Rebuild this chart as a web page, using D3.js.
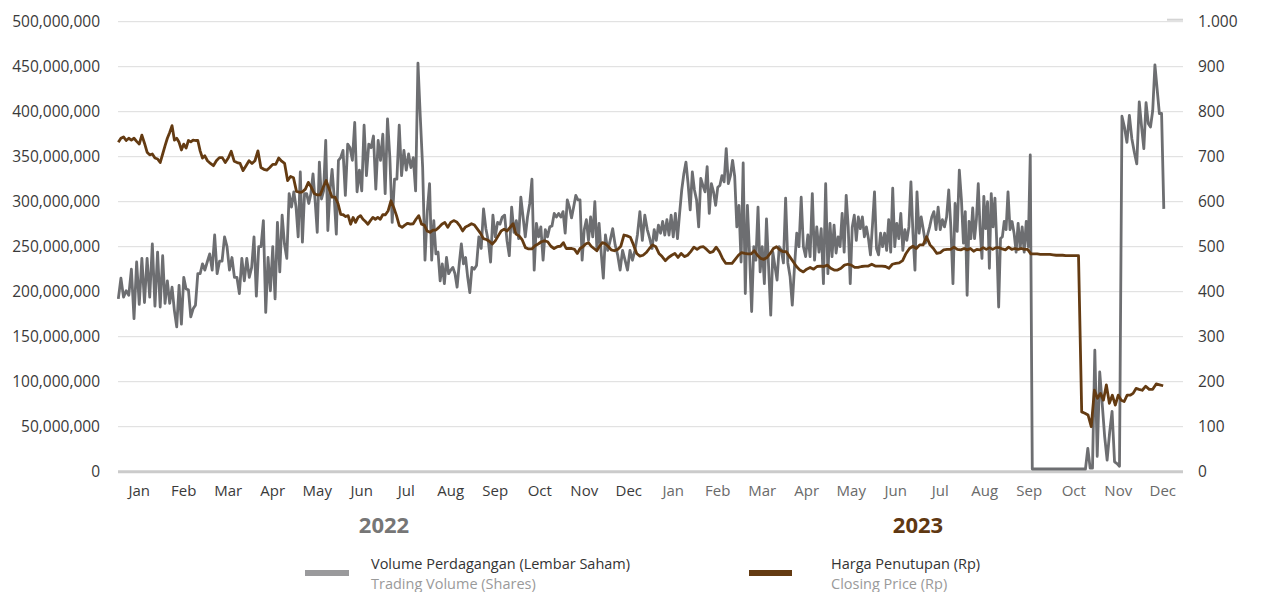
<!DOCTYPE html>
<html><head><meta charset="utf-8">
<script src="https://cdn.jsdelivr.net/npm/d3@7"></script>
<style>
html,body{margin:0;padding:0;background:#fff;}
svg{display:block;font-family:"Open Sans",sans-serif;}
</style></head>
<body><svg id="chart" width="1261" height="592"></svg>
<script>
// ---------- DATA ----------
const monthNames = ["Jan","Feb","Mar","Apr","May","Jun","Jul","Aug","Sep","Oct","Nov","Dec"];
const years = ["2022","2023"];
const volumeTicks = [0,50,100,150,200,250,300,350,400,450,500]; // millions of shares
const priceTicks = [0,100,200,300,400,500,600,700,800,900,1000];
const priceTickLabels = ["0","100","200","300","400","500","600","700","800","900","1.000"];
const lastDayOfData = 17;   // data runs to mid-December 2023
const daysInLastMonth = 31;

// Trading volume (millions of shares), one inner array per month
const volume2022 = [
 [192,215,194,201,196,225,170,233,186,237,188,237,194,253,184,244,183],
 [240,187,212,187,205,179,161,207,164,216,203,202,172,181,185,220,220,231,224],
 [233,242,224,263,220,234,234,261,250,224,238,216,216,198,237,212,237,216],
 [227,261,195,250,250,279,177,238,201,250,192,277,222,285,253,237,309,294,311],
 [294,261,333,255,309,309,298,309,331,301,266,344,303,312,368,268,312,336,305,264,346],
 [349,357,307,364,360,346,388,311,335,312,385,329,364,360,373,314,368,346,375],
 [309,392,349,277,325,325,385,329,357,335,353,338,349,312,454,394,338,235,290],
 [320,235,279,242,244,212,231,209,238,220,224,227,220,205,231,253,231,238,216,199,227],
 [225,229,261,248,292,270,257,233,285,261,277,275,283,285,257,240,294,266,279],
 [259,305,283,261,283,298,325,224,276,261,272,235,269,261,272,273,287,283,287,283],
 [289,265,302,294,282,294,307,302,302,235,269,280,257,283,261,300,246,276,243,215,263],
 [246,257,270,252,241,224,246,235,224,246,235,246,263,289,257,285,269,259]
];
const volume2023 = [
 [248,269,257,274,265,278,263,280,263,285,261,287,259,287,313,331,344,320,291,333,313],
 [302,272,326,318,311,339,287,320,311,296,316,318,329,322,359,320,329,346,328,272,296],
 [233,343,198,296,243,178,250,235,294,222,250,209,281,228,174,244,228,213,250,246,232],
 [304,232,217,185,228,265,250,305,250,239,263,239,309,235,272,244,270,209,320,220],
 [276,239,274,243,261,250,287,244,307,272,209,272,285,257,283,270,283,261,272,259,241,274],
 [311,248,241,265,250,265,246,280,244,315,250,276,259,287,246,269,257,272,322,265,224,311],
 [265,283,269,254,263,272,283,289,269,294,269,280,272,283,313,272,209,298,267,335,302],
 [254,289,196,278,259,293,259,280,320,269,237,306,270,300,226,309,272,304,254,183,259,261,278,269],
 [311,269,278,265,244,276,248,272,244,278,250,352,3,3,3,3,3,3,3,3,3,3],
 [3,3,3,3,3,3,3,3,3,3,3,3,3,3,3,26,4,4,135],
 [17,111,76,39,13,43,67,11,9,6,395,383,366,396,370,355,342,411],
 [383,359,410,387,383,401,452,425,398,398,292]
];

// Closing price (Rp), one inner array per month
const price2022 = [
 [732,741,744,736,741,737,741,734,728,748,730,710,704,706,697,695,687],
 [706,724,741,754,769,737,741,732,715,728,719,736,733,737,736,736,713,697,702],
 [691,685,680,691,698,698,687,697,712,690,687,685,669,680,691],
 [685,691,713,676,672,670,676,683,683,697,690,685,647,656,653],
 [623,621,622,628,643,632,618,615,615,632,647,628,610,610,596],
 [572,571,567,569,550,565,554,565,569,561,556,550,558,565,561,565,561,571],
 [571,580,602,587,569,547,543,548,552,550,551,561,569,550,548,535],
 [532,537,537,543,550,554,543,554,558,555,547,535,544,547,551],
 [548,539,530,518,516,512,506,513,524,535,539,535,543,551,528],
 [524,515,498,495,495,502,506,511,513,511,501,496,500,501],
 [509,496,496,496,494,485,496,500,506,509,501,496,491,501,509,507],
 [501,493,491,494,501,526,524,521,504,485,479,481,487,496]
];
const price2023 = [
 [504,500,485,478,469,476,481,485,476,485,478,481,489,499],
 [494,499,500,494,487,489,499,489,474,463,463,463,472,481],
 [487,485,484,484,491,481,474,472,476,485,496,500,493,489],
 [489,478,467,456,448,444,450,454,450,456,457,456,459],
 [452,448,448,452,459,461,459,454,454,456,457,457,461],
 [457,457,457,456,452,461,463,464,469,485,496,501,496],
 [504,504,522,504,496,485,487,493,494,494,499,494,493],
 [496,493,496,490,494,493,498,494,498,494,498,498,495,493],
 [499,494,496,494,496,494,494,484,484,484,483,483,483,483],
 [482,481,481,481,480,480,480,480,480,133,130,126,100,181],
 [163,174,159,193,152,170,148,170,159,156,170,170,174,185,183],
 [181,190,183,183,195,193,191]
];

// ---------- CHART ----------
const svg = d3.select("#chart");
const plotL = 117, plotR = 1185, gridL = 118, gridR = 1183;
const yTop = 21.7, yBot = 471.7;

const slots = d3.range(24);
const xBand = d3.scaleBand().domain(slots).range([plotL, plotR]);
const xMonth = d3.scaleLinear().domain([0, 24]).range([plotL, plotR]);
const yVol = d3.scaleLinear().domain([0, 500]).range([yBot, yTop]);
const yPrice = d3.scaleLinear().domain([0, 1000]).range([yBot, yTop]);

// gridlines
svg.append("g").selectAll("line").data(volumeTicks.filter(d => d > 0)).join("line")
  .attr("x1", gridL).attr("x2", gridR)
  .attr("y1", d => yVol(d)).attr("y2", d => yVol(d))
  .attr("stroke", "#dcdcdc").attr("stroke-width", 1);
// short tick at top right
svg.append("line").attr("x1", 1167).attr("x2", gridR)
  .attr("y1", yPrice(1000) - 2).attr("y2", yPrice(1000) - 2)
  .attr("stroke", "#d4d4d4").attr("stroke-width", 2);
// zero axis line
svg.append("line").attr("x1", gridL).attr("x2", gridR)
  .attr("y1", yVol(0)).attr("y2", yVol(0))
  .attr("stroke", "#cbcbcb").attr("stroke-width", 3);

// left axis
const fmt = d3.format(",");
const gL = svg.append("g").attr("transform", `translate(${gridL},0)`)
  .call(d3.axisLeft(yVol).tickValues(volumeTicks).tickSize(0).tickPadding(18)
    .tickFormat(d => fmt(d * 1e6)));
gL.select(".domain").remove();
gL.selectAll("text").attr("font-family", "Open Sans").attr("font-size", 15.5).attr("fill", "#3a3a3a");

// right axis
const gR = svg.append("g").attr("transform", `translate(${gridR},0)`)
  .call(d3.axisRight(yPrice).tickValues(priceTicks).tickSize(0).tickPadding(15)
    .tickFormat((d, i) => priceTickLabels[i]));
gR.select(".domain").remove();
gR.selectAll("text").attr("font-family", "Open Sans").attr("font-size", 15.5).attr("fill", "#3a3a3a");

// bottom month axis
const gX = svg.append("g").attr("transform", `translate(0,${yBot + 10})`)
  .call(d3.axisBottom(xBand).tickSize(0).tickPadding(4).tickFormat(i => monthNames[i % 12]));
gX.select(".domain").remove();
gX.selectAll("text").attr("font-family", "Open Sans").attr("font-size", 15)
  .attr("fill", i => i < 12 ? "#3a3a3a" : "#6a6a6a");

// year labels
svg.append("g").selectAll("text").data(years).join("text")
  .attr("x", (d, i) => (xBand(i * 12 + 5) + xBand(i * 12 + 6) + xBand.bandwidth()) / 2)
  .attr("y", 533)
  .attr("text-anchor", "middle")
  .attr("font-family", "Open Sans").attr("font-weight", 700).attr("font-size", 22)
  .attr("fill", (d, i) => i === 0 ? "#767676" : "#5f3812")
  .text(d => d);

// flatten monthly arrays into positioned points
function toPoints(y2022, y2023) {
  const all = y2022.concat(y2023);
  const pts = [];
  all.forEach((vals, m) => {
    const frac = m === all.length - 1 ? lastDayOfData / daysInLastMonth : 1;
    vals.forEach((v, j) => pts.push({ t: m + (j + 0.5) / vals.length * frac, v }));
  });
  return pts;
}
const volPts = toPoints(volume2022, volume2023);
const pricePts = toPoints(price2022, price2023);

svg.append("path").datum(volPts)
  .attr("fill", "none").attr("stroke", "#6d6e71").attr("stroke-width", 2.8)
  .attr("stroke-linejoin", "round")
  .attr("d", d3.line().x(d => xMonth(d.t)).y(d => yVol(d.v)));

svg.append("path").datum(pricePts)
  .attr("fill", "none").attr("stroke", "#643b12").attr("stroke-width", 2.8)
  .attr("stroke-linejoin", "round")
  .attr("d", d3.line().x(d => xMonth(d.t)).y(d => yPrice(d.v)));

// legend
const legend = [
  { x: 305, w: 44, color: "#9a9a9c", t1: "Volume Perdagangan (Lembar Saham)", t2: "Trading Volume (Shares)", tx: 371 },
  { x: 749, w: 43, color: "#643b12", t1: "Harga Penutupan (Rp)", t2: "Closing Price (Rp)", tx: 831 }
];
const lg = svg.append("g").selectAll("g").data(legend).join("g");
lg.append("rect").attr("x", d => d.x).attr("y", 570).attr("width", d => d.w).attr("height", 6).attr("fill", d => d.color);
lg.append("text").attr("x", d => d.tx).attr("y", 569).attr("font-family", "Open Sans").attr("font-size", 14.5)
  .attr("fill", "#333").text(d => d.t1);
lg.append("text").attr("x", d => d.tx).attr("y", 589).attr("font-family", "Open Sans").attr("font-size", 14.5)
  .attr("fill", "#9a9a9a").text(d => d.t2);
</script>
</body></html>
